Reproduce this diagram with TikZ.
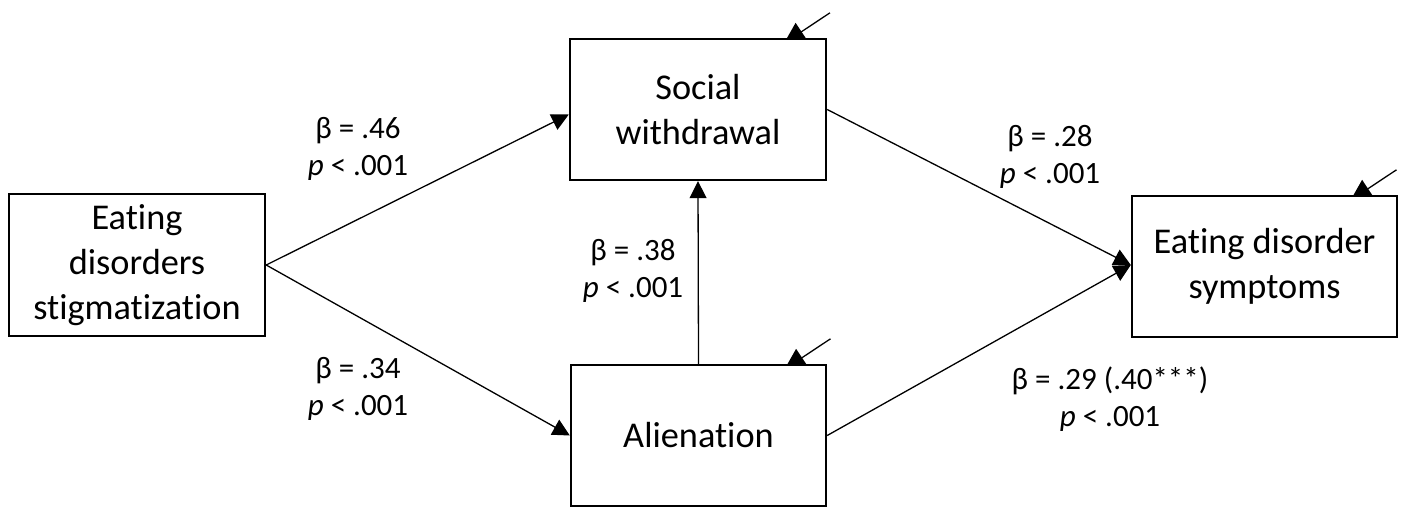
\documentclass[tikz,border=0pt]{standalone}
\usepackage{fontspec}
\setmainfont{Carlito}[Ligatures={NoCommon,NoContextual}]
\usetikzlibrary{arrows.meta,backgrounds}
\newcommand\nolig{\kern0pt }
\begin{document}
\begin{tikzpicture}[x=1pt,y=1pt,
  box/.style={draw, fill=white, line width=2.4pt, inner sep=0pt, align=center,
    font=\fontsize{36.3}{45}\selectfont},
  lab/.style={inner sep=0pt, align=center, font=\fontsize{31}{37}\selectfont},
  arr/.style={-{Triangle[length=17pt,width=17pt]}, line width=1.3pt},
  earr/.style={-{Triangle[length=21pt,width=21pt]}, line width=1.3pt}]
\useasboundingbox (0,0) rectangle (1402,509);
\node[box, minimum width=256pt, minimum height=142pt] (eds) at (137,244) {Eat\nolig ing\\disorders\\stigmat\nolig izat\nolig ion};
\node[box, minimum width=256pt, minimum height=141pt] (soc) at (698,399.5) {Social\\withdrawal};
\node[box, minimum width=255pt, minimum height=141pt] (ali) at (698.5,73.5) {Alienat\nolig ion};
\node[box, minimum width=265pt, minimum height=141pt] (sym) at (1264.5,242.5) {Eat\nolig ing disorder\\symptoms};
% paths
\draw[arr] (eds.east) -- ([yshift=-5pt]soc.west);
\draw[arr] (eds.east) -- ([yshift=0pt]ali.west);
\draw[arr] (ali.north) -- (soc.south);
\draw[arr] (soc.east) -- ([yshift=1.5pt]sym.west);
\draw[arr] (ali.east) -- ([yshift=1.5pt]sym.west);
% error terms (heads partly hidden behind the boxes)
\coordinate (esoc) at ([xshift=132pt,yshift=25pt]soc.north);
\coordinate (eali) at ([xshift=132pt,yshift=25pt]ali.north);
\coordinate (esym) at ([xshift=132pt,yshift=25pt]sym.north);
\begin{pgfonlayer}{background}
\draw[earr] (esoc) -- ([xshift=86pt,yshift=-5.5pt]soc.north);
\draw[earr] (eali) -- ([xshift=86pt,yshift=-5.5pt]ali.north);
\draw[earr] (esym) -- ([xshift=86pt,yshift=-5.5pt]sym.north);
\end{pgfonlayer}
% labels
\node[lab] (l1) at (358,360.5) {β = .46\\\textit{p} < .001};
\node[lab] (l2) at (358,120.5) {β = .34\\\textit{p} < .001};
\node[lab] (l3) at (633,238) {β = .38\\\textit{p} < .001};
\node[lab] (l4) at (1050,352.5) {β = .28\\\textit{p} < .001};
\node[lab] (l5) at (1110,109.5) {β = .29 (.40***)\\\textit{p} < .001};
\end{tikzpicture}
\end{document}
